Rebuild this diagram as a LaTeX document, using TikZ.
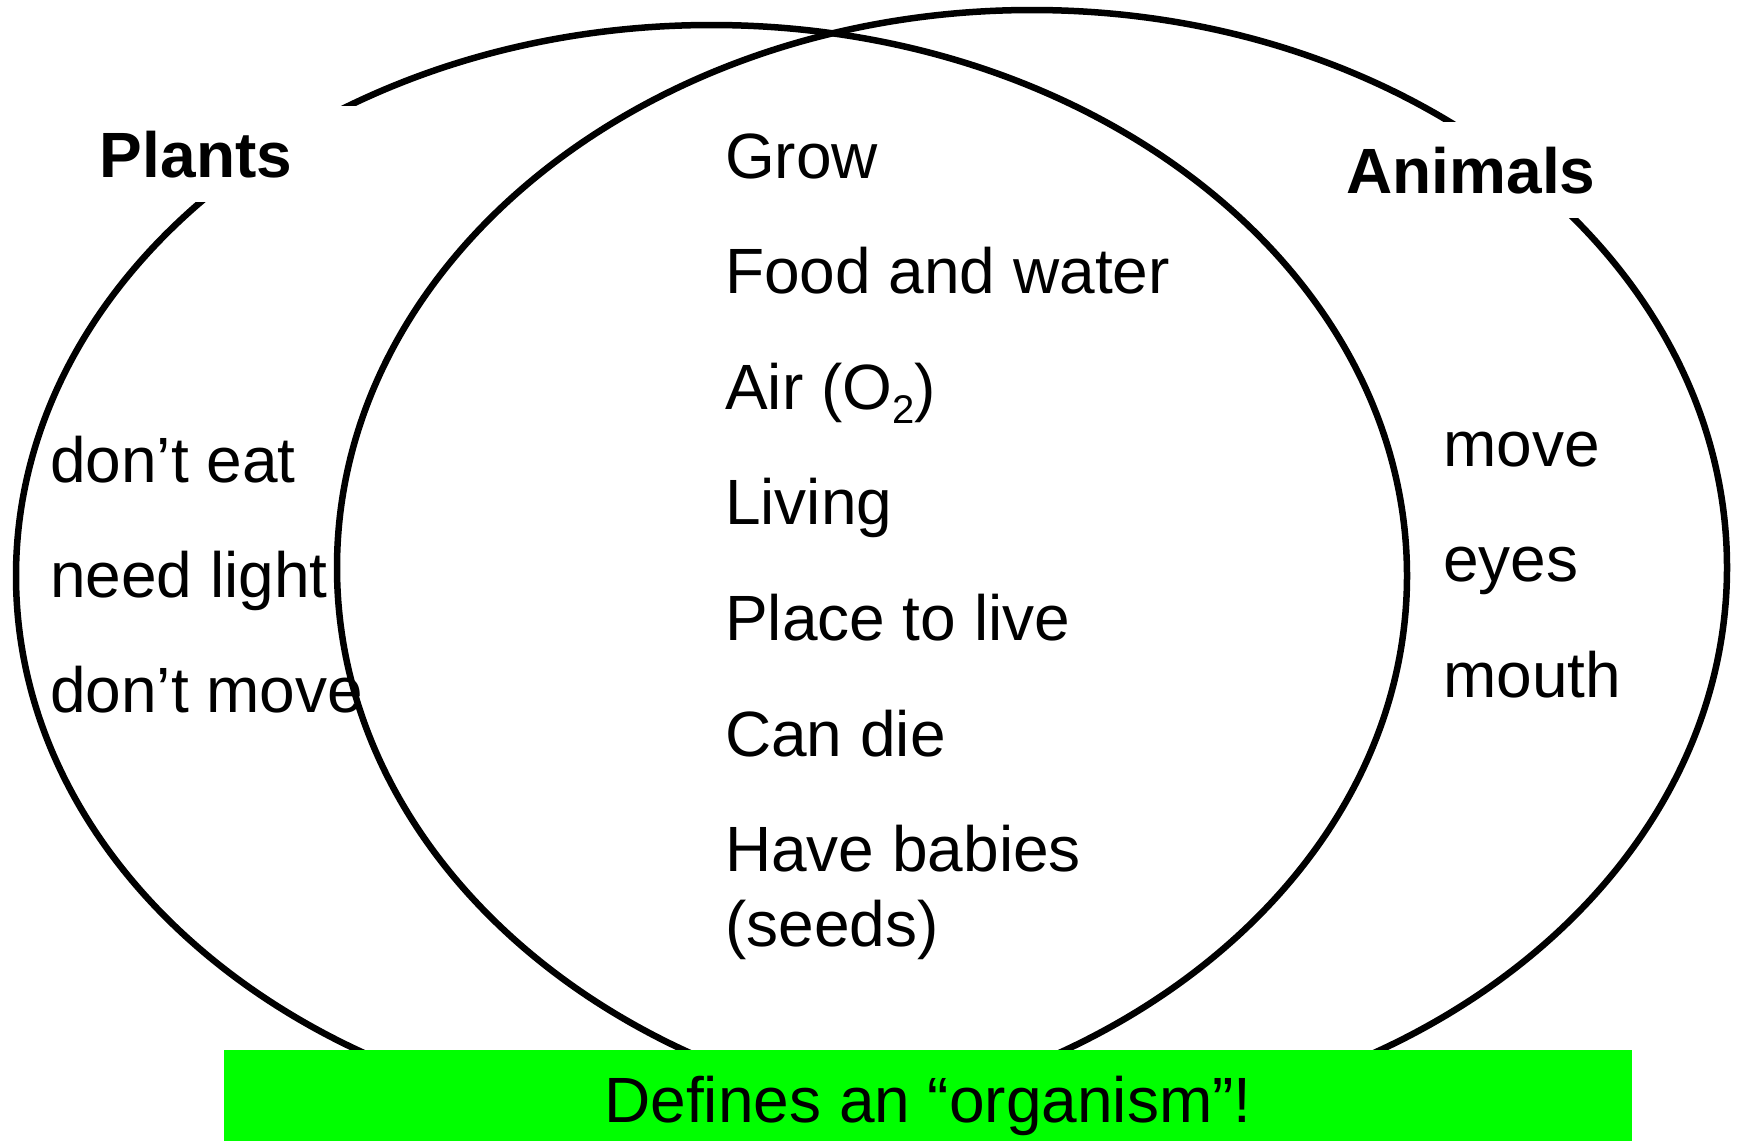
\documentclass[tikz,border=0pt]{standalone}
\usepackage{fontspec}
\setmainfont{Liberation Sans}
\begin{document}
\begin{tikzpicture}[x=1pt,y=-1pt,
  lbl/.style={anchor=base west, inner sep=0pt, font=\fontsize{64}{74}\selectfont},
  head/.style={fill=white, inner sep=0pt, minimum height=96pt, text height=46pt, text depth=0pt, font=\fontsize{64}{74}\selectfont\bfseries},
  ring/.style={line width=6.5pt, draw=black}]
\useasboundingbox (0,0) rectangle (1738,1141);
% two overlapping ellipses
\draw[ring] (711.5,575.8) ellipse [x radius=695.5pt, y radius=550.8pt];
\draw[ring] (1032,567.5) ellipse [x radius=695pt, y radius=557.5pt];
% headings on white
\node[head, minimum width=360pt] (plants) at (196,154) {Plants};
\node[head, minimum width=340pt] (animals) at (1471,170) {Animals};
% green banner
\node[fill={rgb,255:red,0;green,255;blue,0}, inner sep=0pt, minimum width=1408pt, minimum height=91pt,
      text height=53pt, text depth=0pt, font=\fontsize{64}{74}\selectfont] (banner) at (928,1095.5)
      {Defines an “organism”!};
% plants only
\node[lbl] (p1) at (50,482) {don’t eat};
\node[lbl] (p2) at (50,597) {need light};
\node[lbl] (p3) at (50,712) {don’t move};
% shared
\node[lbl] (c1) at (725,178) {Grow};
\node[lbl] (c2) at (725,293.5) {Food and water};
\node[lbl] (c3) at (725,409) {Air (O\raisebox{-14pt}{\fontsize{40}{40}\selectfont 2})};
\node[lbl] (c4) at (725,524.5) {Living};
\node[lbl] (c5) at (725,640) {Place to live};
\node[lbl] (c6) at (725,756) {Can die};
\node[lbl] (c7) at (725,871) {Have babies};
\node[lbl] (c8) at (725,946) {(seeds)};
% animals only
\node[lbl] (a1) at (1443,466) {move};
\node[lbl] (a2) at (1443,581) {eyes};
\node[lbl] (a3) at (1443,697) {mouth};
\end{tikzpicture}
\end{document}
